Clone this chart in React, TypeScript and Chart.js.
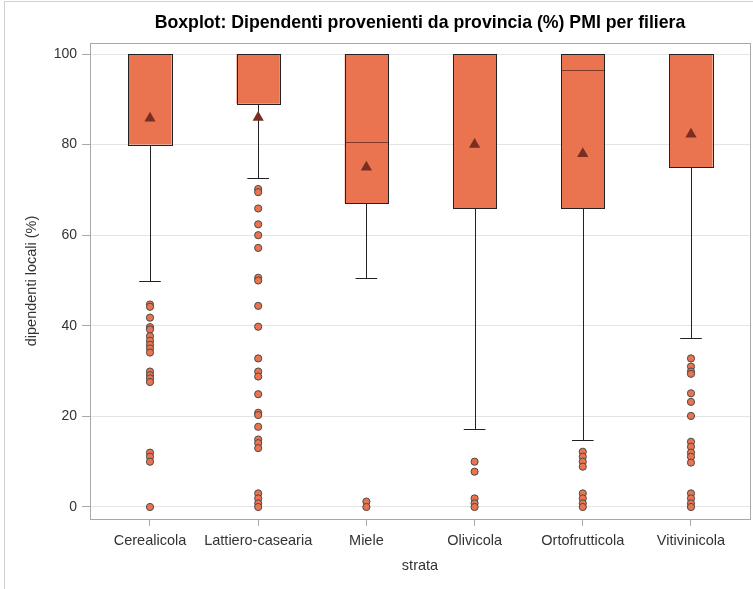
import React, { useEffect, useRef } from 'react';
import { Chart, registerables } from 'chart.js';

Chart.register(...registerables);

const titleText = 'Boxplot: Dipendenti provenienti da provincia (%) PMI per filiera';
const xAxisTitle = 'strata';
const yAxisTitle = 'dipendenti locali (%)';

const categories = ['Cerealicola', 'Lattiero-casearia', 'Miele', 'Olivicola', 'Ortofrutticola', 'Vitivinicola'];
const q1 = [80, 89, 67, 66, 66, 75];
const medians = [100, 100, 80.6, 100, 96.4, 100];
const q3 = [100, 100, 100, 100, 100, 100];
const whiskerLow = [50, 72.6, 50.5, 17.2, 14.8, 37.4];
const whiskerHigh = [100, 100, 100, 100, 100, 100];
const means = [85.8, 86, 75, 80, 78, 82.3];
const yTicks = [0, 20, 40, 60, 80, 100];

const cerealicolaOutliers = [44.7, 44.2, 41.8, 39.7, 39.2, 37.7, 36.7, 35.8, 35.0, 34.1, 29.9, 29.1, 28.4, 27.6, 12.0, 11.1, 10.0, 0];
const lattieroOutliers = [70.2, 69.5, 65.9, 62.4, 60, 57.2, 50.6, 50.0, 44.4, 39.8, 32.8, 29.9, 28.8, 24.9, 20.8, 20.3, 17.7, 14.9, 14.1, 13.0, 3.0, 1.9, 0.8, 0];
const mieleOutliers = [1.2, 0];
const olivicolaOutliers = [10, 7.8, 1.9, 0.8, 0];
const ortofrutticolaOutliers = [12.2, 11.1, 10, 8.9, 3.0, 1.9, 0.8, 0];
const vitivinicolaOutliers = [32.8, 31.0, 29.9, 29.4, 25.1, 23.2, 20.1, 14.4, 13.3, 12.0, 11.1, 9.8, 3.0, 1.9, 0.8, 0];

const outlierLists = [cerealicolaOutliers, lattieroOutliers, mieleOutliers, olivicolaOutliers, ortofrutticolaOutliers, vitivinicolaOutliers];

const FONT = '"Liberation Sans", Arial, sans-serif';
const BOX_FILL = '#E9744F';
const LINE = '#222222';
const MEDIAN = '#85392A';
const MEAN = '#7A2E22';
const FRAME = '#A8A8A8';
const GRID = '#E4E4E4';
const CAP_HALF = 0.1;

export default function App() {
  const ref = useRef<HTMLCanvasElement>(null);

  useEffect(() => {
    const canvas = ref.current;
    if (!canvas) return;

    const boxData = categories.map((_, i) => ({ x: i, y: [q1[i], q3[i]] }));
    const meanData = categories.map((_, i) => ({ x: i, y: means[i] }));
    const outlierData = outlierLists.flatMap((list, i) => list.map((v) => ({ x: i, y: v })));

    const crisp = (v: number) => Math.round(v) + 0.5;

    const boxPlugin = {
      id: 'boxExtras',
      beforeDatasetsDraw(chart: any) {
        const { ctx, chartArea: a } = chart;
        ctx.save();
        ctx.strokeStyle = FRAME;
        ctx.lineWidth = 1;
        ctx.strokeRect(crisp(a.left), crisp(a.top), Math.round(a.right - a.left), Math.round(a.bottom - a.top));
        ctx.restore();
      },
      afterDatasetDraw(chart: any, args: any) {
        if (args.index !== 0) return;
        const { ctx } = chart;
        const xs = chart.scales.x;
        const ys = chart.scales.y;
        const meta = chart.getDatasetMeta(0);
        ctx.save();
        ctx.lineWidth = 1;
        categories.forEach((_, i) => {
          const bar = meta.data[i];
          const half = bar.width / 2;
          const bl = crisp(bar.x - half);
          const br = crisp(bar.x + half);
          const cx = crisp(xs.getPixelForValue(i));
          const capL = xs.getPixelForValue(i - CAP_HALF);
          const capR = xs.getPixelForValue(i + CAP_HALF);
          const yQ1 = crisp(ys.getPixelForValue(q1[i]));
          const yQ3 = crisp(ys.getPixelForValue(q3[i]));
          const yLo = crisp(ys.getPixelForValue(whiskerLow[i]));
          const yHi = crisp(ys.getPixelForValue(whiskerHigh[i]));
          // box outline
          ctx.strokeStyle = LINE;
          ctx.strokeRect(bl, yQ3, br - bl, yQ1 - yQ3);
          // median
          if (medians[i] < q3[i]) {
            const ym = crisp(ys.getPixelForValue(medians[i]));
            ctx.strokeStyle = MEDIAN;
            ctx.beginPath();
            ctx.moveTo(bl + 0.5, ym);
            ctx.lineTo(br - 0.5, ym);
            ctx.stroke();
          }
          // whiskers and caps
          ctx.strokeStyle = LINE;
          ctx.beginPath();
          ctx.moveTo(cx, yQ1);
          ctx.lineTo(cx, yLo);
          ctx.moveTo(capL, yLo);
          ctx.lineTo(capR, yLo);
          if (yHi < yQ3) {
            ctx.moveTo(cx, yQ3);
            ctx.lineTo(cx, yHi);
          }
          ctx.moveTo(capL, yHi);
          ctx.lineTo(capR, yHi);
          ctx.stroke();
        });
        ctx.restore();
      },
      afterDraw(chart: any) {
        const { ctx, chartArea: a } = chart;
        ctx.save();
        ctx.font = `bold 17.7px ${FONT}`;
        ctx.fillStyle = '#000';
        ctx.textAlign = 'center';
        ctx.textBaseline = 'middle';
        ctx.fillText(titleText, (a.left + a.right) / 2, 23);
        ctx.restore();
      },
    };

    const chart = new Chart(canvas, {
      type: 'bar',
      data: {
        datasets: [
          {
            type: 'bar',
            data: boxData as any,
            backgroundColor: BOX_FILL,
            borderWidth: 0,
            barPercentage: 0.4,
            categoryPercentage: 1,
            order: 3,
          } as any,
          {
            type: 'scatter',
            data: outlierData,
            pointRadius: 3.6,
            pointBackgroundColor: BOX_FILL,
            pointBorderColor: '#4A4A4A',
            pointBorderWidth: 1,
            order: 2,
          } as any,
          {
            type: 'scatter',
            data: meanData,
            pointStyle: 'triangle',
            pointRadius: 6.5,
            pointBackgroundColor: MEAN,
            pointBorderColor: MEAN,
            pointBorderWidth: 0,
            order: 1,
          } as any,
        ],
      },
      options: {
        responsive: false,
        animation: false,
        devicePixelRatio: 1,
        layout: { autoPadding: false, padding: { left: 0, right: 3, top: 43, bottom: 0 } },
        plugins: {
          legend: { display: false },
          title: { display: false },
          tooltip: { enabled: false },
        },
        scales: {
          x: {
            type: 'linear',
            min: -0.5545,
            max: 5.5455,
            offset: false,
            afterBuildTicks: (scale: any) => {
              scale.ticks = categories.map((_, i) => ({ value: i }));
            },
            afterFit: (scale: any) => {
              scale.height = 70;
              scale.paddingLeft = 0;
              scale.paddingRight = 0;
            },
            ticks: {
              autoSkip: false,
              maxRotation: 0,
              padding: 6,
              color: '#333',
              font: { family: FONT, size: 14.5 },
              callback: (_v: any, idx: number) => categories[idx],
            },
            grid: {
              drawOnChartArea: false,
              drawTicks: true,
              tickLength: 7,
              tickColor: FRAME,
              offset: false,
            },
            border: { display: false },
            title: {
              display: true,
              text: xAxisTitle,
              color: '#333',
              font: { family: FONT, size: 14.5 },
              padding: { top: 0, bottom: 14 },
            },
          },
          y: {
            type: 'linear',
            min: -2.65,
            max: 102.43,
            afterBuildTicks: (scale: any) => {
              scale.ticks = yTicks.map((v) => ({ value: v }));
            },
            afterFit: (scale: any) => {
              scale.width = 90;
              scale.paddingTop = 0;
              scale.paddingBottom = 0;
            },
            ticks: {
              padding: 5,
              color: '#333',
              font: { family: FONT, size: 14 },
            },
            grid: {
              color: GRID,
              tickColor: FRAME,
              tickLength: 8,
            },
            border: { display: false },
            title: {
              display: true,
              text: yAxisTitle,
              color: '#333',
              font: { family: FONT, size: 14.5 },
              padding: { top: 23, bottom: 0 },
            },
          },
        },
      } as any,
      plugins: [boxPlugin],
    });

    return () => chart.destroy();
  }, []);

  return (
    <div style={{ position: 'absolute', left: 0, top: 0, width: 753, height: 589, background: '#fff' }}>
      <div
        style={{
          position: 'absolute',
          left: 4,
          top: 1,
          width: 760,
          height: 600,
          borderLeft: '1px solid #D0D0D0',
          borderTop: '1px solid #D0D0D0',
          boxSizing: 'border-box',
        }}
      />
      <canvas ref={ref} width={753} height={589} style={{ position: 'absolute', left: 0, top: 0, width: 753, height: 589 }} />
    </div>
  );
}
